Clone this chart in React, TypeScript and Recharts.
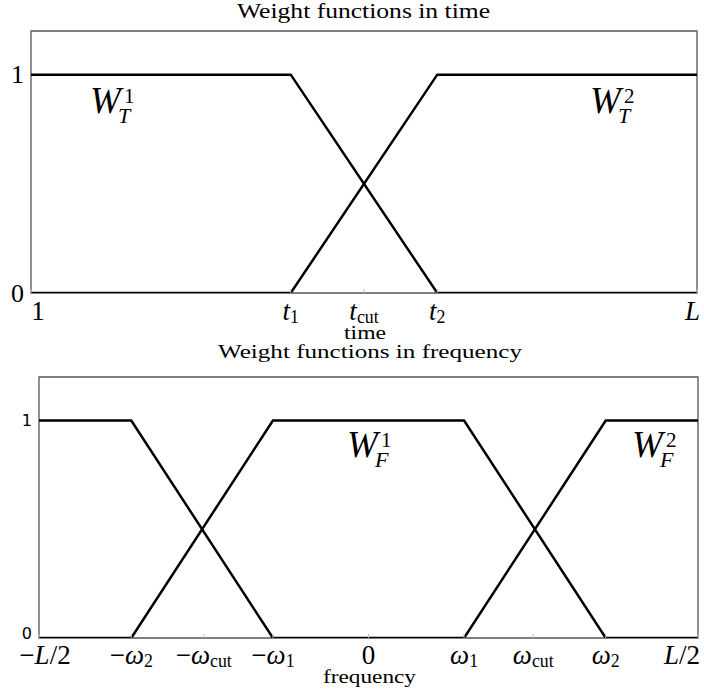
import React from 'react';
import { LineChart, Line, XAxis, YAxis, ReferenceArea } from 'recharts';

// time panel
const timeTicks = [0, 0.39, 0.5, 0.61, 1];
const timeTickLabels = ['1', 't_1', 't_cut', 't_2', 'L'];
const timeX = [0, 0.39, 0.61, 1];
const wT1 = [1, 1, 0, 0];
const wT2 = [0, 0, 1, 1];

// frequency panel
const freqTicks = [-1, -0.72, -0.5, -0.29, 0, 0.29, 0.5, 0.72, 1];
const freqTickLabels = ['-L/2', '-ω_2', '-ω_cut', '-ω_1', '0', 'ω_1', 'ω_cut', 'ω_2', 'L/2'];
const freqX = [-1, -0.72, -0.29, 0.29, 0.72, 1];
const wF1 = [0, 0, 1, 1, 0, 0];
const wF2 = [1, 1, 0, 0, 1, 1];

const yTicks = [0, 1];

const SERIF = "'Liberation Serif', 'DejaVu Serif', serif";
const SANS = "'DejaVu Sans', sans-serif";
const FRAME = '#555';

const toPoints = (xs: number[], ys: number[]) => xs.map((x, i) => ({ x, y: ys[i] }));

// letters italic, digits / signs upright; part after '_' is a subscript
const MathSpans = ({ label, size }: { label: string; size: number }) => {
  const [main, sub] = label.split('_');
  const chars = main.replace('-', '\u2212').split('');
  const spans: React.ReactNode[] = [];
  chars.forEach((c, i) => {
    const italic = /[a-zA-Zω]/.test(c);
    spans.push(
      <tspan key={i} fontStyle={italic ? 'italic' : 'normal'}>
        {c}
      </tspan>
    );
  });
  if (sub) {
    spans.push(
      <tspan key="sub" fontSize={size * 0.66} dy={size * 0.12}>
        {sub}
      </tspan>
    );
  }
  return <>{spans}</>;
};

const makeXTick = (labels: string[], ticks: number[], baseline: number, size: number, edge: [number, number]) =>
  (props: any) => {
    const { x, y, payload } = props;
    const idx = ticks.indexOf(payload.value);
    const label = labels[idx] ?? String(payload.value);
    let dx = 0;
    let anchor: 'middle' | 'end' = 'middle';
    if (idx === 0) dx = edge[0];
    if (idx === ticks.length - 1) {
      anchor = 'end';
      dx = edge[1];
    }
    return (
      <g>
        <line x1={x} x2={x} y1={y} y2={y - 4} stroke="#bbb" strokeWidth={1} />
        <text x={x + dx} y={y + baseline} textAnchor={anchor} fontFamily={SERIF} fontSize={size} fill="#000">
          <MathSpans label={label} size={size} />
        </text>
      </g>
    );
  };

const makeYTick = (family: string, size: number, gap: number, lift: number) => (props: any) => {
  const { x, y, payload } = props;
  return (
    <text
      x={x - gap}
      y={payload.value === 0 ? y - lift : y}
      textAnchor="end"
      dominantBaseline="central"
      fontFamily={family}
      fontSize={size}
      fill="#000"
    >
      {payload.value}
    </text>
  );
};

const CurveName = ({ x, y, sub, sup }: { x: number; y: number; sub: string; sup: string }) => (
  <g fontFamily={SERIF} fill="#000">
    <text x={x} y={y} fontSize={37} fontStyle="italic">
      W
    </text>
    <text x={x + 34} y={y - 10} fontSize={21}>
      {sup}
    </text>
    <text x={x + 28} y={y + 10} fontSize={22} fontStyle="italic">
      {sub}
    </text>
  </g>
);

const Caption = ({ x1, x2, y, text, size = 20 }: { x1: number; x2: number; y: number; text: string; size?: number }) => (
  <text x={x1} y={y} fontFamily={SERIF} fontSize={size} fill="#000" textLength={x2 - x1} lengthAdjust="spacingAndGlyphs">
    {text}
  </text>
);

export default function App() {
  return (
    <div style={{ position: 'absolute', left: 0, top: 0, width: 704, height: 698, background: '#fff' }}>
      <div style={{ position: 'absolute', left: 0, top: 0 }}>
        <LineChart width={704} height={350} margin={{ top: 31, right: 7, bottom: 0, left: 0 }}>
          <XAxis
            type="number"
            dataKey="x"
            domain={[0, 1]}
            ticks={timeTicks}
            interval={0}
            allowDataOverflow
            axisLine={false}
            tickLine={false}
            tickSize={0}
            tickMargin={0}
            height={57}
            tick={makeXTick(timeTickLabels, timeTicks, 27, 27, [7, 3])}
          />
          <YAxis
            type="number"
            domain={[0, 1.2]}
            ticks={yTicks}
            interval={0}
            allowDataOverflow
            axisLine={false}
            tickLine={false}
            tickSize={0}
            tickMargin={0}
            width={31}
            tick={makeYTick(SERIF, 26, 7, 0)}
          />
          <ReferenceArea x1={0} x2={1} y1={0} y2={1.2} fill="none" stroke={FRAME} strokeWidth={1.3} ifOverflow="visible" />
          <Line data={toPoints(timeX, wT1)} dataKey="y" type="linear" stroke="#000" strokeWidth={2.5} dot={false} isAnimationActive={false} />
          <Line data={toPoints(timeX, wT2)} dataKey="y" type="linear" stroke="#000" strokeWidth={2.5} dot={false} isAnimationActive={false} />
        </LineChart>
      </div>
      <div style={{ position: 'absolute', left: 0, top: 350 }}>
        <LineChart width={704} height={348} margin={{ top: 27, right: 6, bottom: 0, left: 0 }}>
          <XAxis
            type="number"
            dataKey="x"
            domain={[-1, 1]}
            ticks={freqTicks}
            interval={0}
            allowDataOverflow
            axisLine={false}
            tickLine={false}
            tickSize={0}
            tickMargin={0}
            height={60}
            tick={makeXTick(freqTickLabels, freqTicks, 26, 27, [6, 2])}
          />
          <YAxis
            type="number"
            domain={[0, 1.2]}
            ticks={yTicks}
            interval={0}
            allowDataOverflow
            axisLine={false}
            tickLine={false}
            tickSize={0}
            tickMargin={0}
            width={39}
            tick={makeYTick(SANS, 16, 7, 5)}
          />
          <ReferenceArea x1={-1} x2={1} y1={0} y2={1.2} fill="none" stroke={FRAME} strokeWidth={1.3} ifOverflow="visible" />
          <Line data={toPoints(freqX, wF1)} dataKey="y" type="linear" stroke="#000" strokeWidth={2.5} dot={false} isAnimationActive={false} />
          <Line data={toPoints(freqX, wF2)} dataKey="y" type="linear" stroke="#000" strokeWidth={2.5} dot={false} isAnimationActive={false} />
        </LineChart>
      </div>
      <svg width={704} height={698} style={{ position: 'absolute', left: 0, top: 0, pointerEvents: 'none' }}>
        <Caption x1={237} x2={490} y={18} text="Weight functions in time" />
        <Caption x1={344} x2={386} y={339} text="time" size={18} />
        <Caption x1={218} x2={522} y={358} text="Weight functions in frequency" size={19} />
        <Caption x1={323} x2={416} y={683} text="frequency" size={19} />
        <CurveName x={90} y={113} sub="T" sup="1" />
        <CurveName x={590} y={113} sub="T" sup="2" />
        <CurveName x={347} y={457} sub="F" sup="1" />
        <CurveName x={632} y={457} sub="F" sup="2" />
      </svg>
    </div>
  );
}
